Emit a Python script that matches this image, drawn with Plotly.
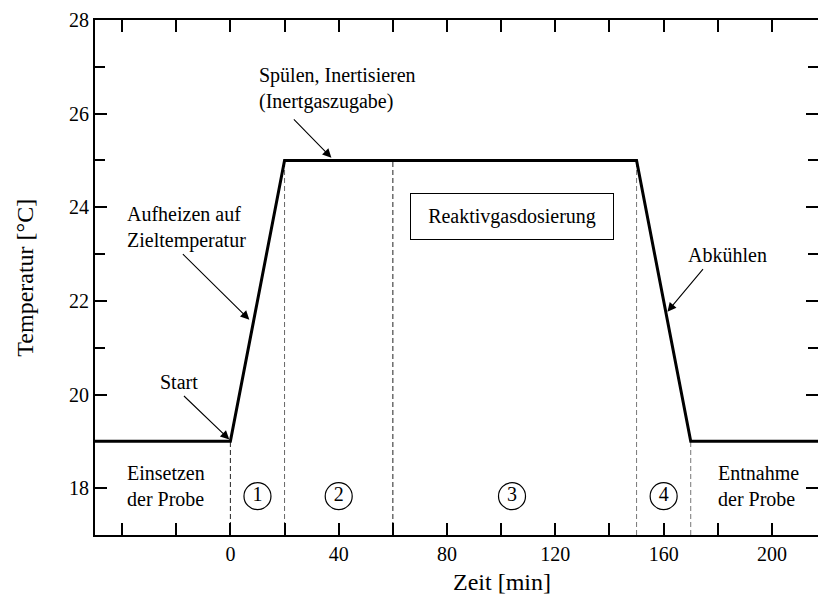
import plotly.graph_objects as go

# Temperature profile
time_min = [-50, 0, 20, 150, 170, 217]
temperature = [19, 19, 25, 25, 19, 19]

# Phase boundaries (dashed verticals)
boundary_x = [0, 20, 60, 150, 170]
boundary_top = [19, 25, 25, 25, 19]
boundary_color = ["#222222", "#666666", "#222222", "#777777", "#777777"]

# Circled phase numbers
phase_x = [10, 40, 104, 160]
phase_y = [17.83, 17.83, 17.83, 17.83]
phase_labels = ["1", "2", "3", "4"]

x_tickvals = [-40, -20, 0, 20, 40, 60, 80, 100, 120, 140, 160, 180, 200]
x_ticktext = ["", "", "0", "", "40", "", "80", "", "120", "", "160", "", "200"]

FONT = "Liberation Serif"

fig = go.Figure()

for bx, bt, bc in zip(boundary_x, boundary_top, boundary_color):
    fig.add_trace(go.Scatter(x=[bx, bx], y=[17, bt], mode="lines",
                             line=dict(color=bc, width=1, dash="5px,3px"),
                             showlegend=False, hoverinfo="skip"))

fig.add_trace(go.Scatter(x=time_min, y=temperature, mode="lines",
                         line=dict(color="black", width=3),
                         showlegend=False))

fig.add_trace(go.Scatter(x=phase_x, y=phase_y, mode="markers+text",
                         text=phase_labels, textposition="middle center",
                         textfont=dict(family=FONT, size=20, color="black"),
                         marker=dict(symbol="circle-open", size=27,
                                     color="black", line=dict(width=1.2, color="black")),
                         showlegend=False))

# invisible trace for right-side ticks
fig.add_trace(go.Scatter(x=[None], y=[None], yaxis="y2", showlegend=False))

# arrows: (head_x, head_y, tail_x, tail_y)
arrows = [
    (37.3, 25.06, 22.9, 25.91),
    (7.0, 21.6, -18.1, 23.03),
    (-0.4, 19.04, -17.7, 20.0),
    (161.4, 21.77, 175.0, 22.71),
]
for hx, hy, tx, ty in arrows:
    fig.add_annotation(x=hx, y=hy, ax=tx, ay=ty, axref="x", ayref="y",
                       xref="x", yref="y", text="", showarrow=True,
                       arrowhead=2, arrowsize=1.6, arrowwidth=1.1,
                       arrowcolor="black", standoff=0)

labels = [
    ("Spülen, Inertisieren<br>(Inertgaszugabe)", 10.0, 26.53, "left"),
    ("Aufheizen auf<br>Zieltemperatur", -38.8, 23.57, "left"),
    ("Start", -18.8, 20.26, "center"),
    ("Abkühlen", 183.5, 22.99, "center"),
    ("Einsetzen<br>der Probe", -39.1, 18.04, "left"),
    ("Entnahme<br>der Probe", 179.5, 18.04, "left"),
]
for txt, lx, ly, anc in labels:
    fig.add_annotation(x=lx, y=ly, xref="x", yref="y", text=txt,
                       showarrow=False, xanchor=anc, yanchor="middle",
                       align="left", font=dict(family=FONT, size=20, color="black"))

fig.add_annotation(x=104.1, y=23.81, xref="x", yref="y", text="Reaktivgasdosierung",
                   showarrow=False, xanchor="center", yanchor="middle",
                   width=202, height=45, bordercolor="black", borderwidth=1,
                   borderpad=0, font=dict(family=FONT, size=20, color="black"))

fig.add_annotation(x=0.563, y=-0.091, xref="paper", yref="paper", text="Zeit [min]",
                   showarrow=False, xanchor="center", yanchor="middle",
                   font=dict(family=FONT, size=24, color="black"))
fig.add_annotation(x=-0.098, y=0.5, xref="paper", yref="paper", text="Temperatur [°C]",
                   showarrow=False, xanchor="center", yanchor="middle", textangle=-90,
                   font=dict(family=FONT, size=24, color="black"))

fig.update_layout(
    width=818, height=594,
    margin=dict(l=95, r=0, t=20, b=59, autoexpand=False),
    paper_bgcolor="white", plot_bgcolor="white",
    font=dict(family=FONT, size=20, color="black"),
    xaxis=dict(range=[-50, 217], tickmode="array", tickvals=x_tickvals,
               ticktext=x_ticktext, ticks="inside", ticklen=12, tickwidth=1.5,
               tickcolor="black", showline=True, linecolor="black", linewidth=2,
               mirror="ticks", showgrid=False, zeroline=False, automargin=False,
               tickfont=dict(family=FONT, size=20)),
    yaxis=dict(range=[17, 28], tick0=18, dtick=2, ticks="inside", ticklen=12,
               tickwidth=1.5, tickcolor="black", showline=True, linecolor="black",
               linewidth=2, showgrid=False, zeroline=False, automargin=False,
               minor=dict(dtick=1, tick0=17, ticks="inside", ticklen=10,
                          tickwidth=1.5, tickcolor="black", showgrid=False),
               tickfont=dict(family=FONT, size=20)),
    yaxis2=dict(range=[17, 28], overlaying="y", side="right", tick0=18, dtick=2,
                ticks="inside", ticklen=12, tickwidth=1.5, tickcolor="black",
                showline=False, showgrid=False, zeroline=False, showticklabels=False,
                automargin=False,
                minor=dict(dtick=1, tick0=17, ticks="inside", ticklen=10,
                           tickwidth=1.5, tickcolor="black", showgrid=False)),
)

fig.write_html(
    "out.html",
    config={"displayModeBar": False},
    post_script="document.body.style.margin='0';document.body.style.padding='0';"
                "document.body.style.overflow='hidden';",
)
